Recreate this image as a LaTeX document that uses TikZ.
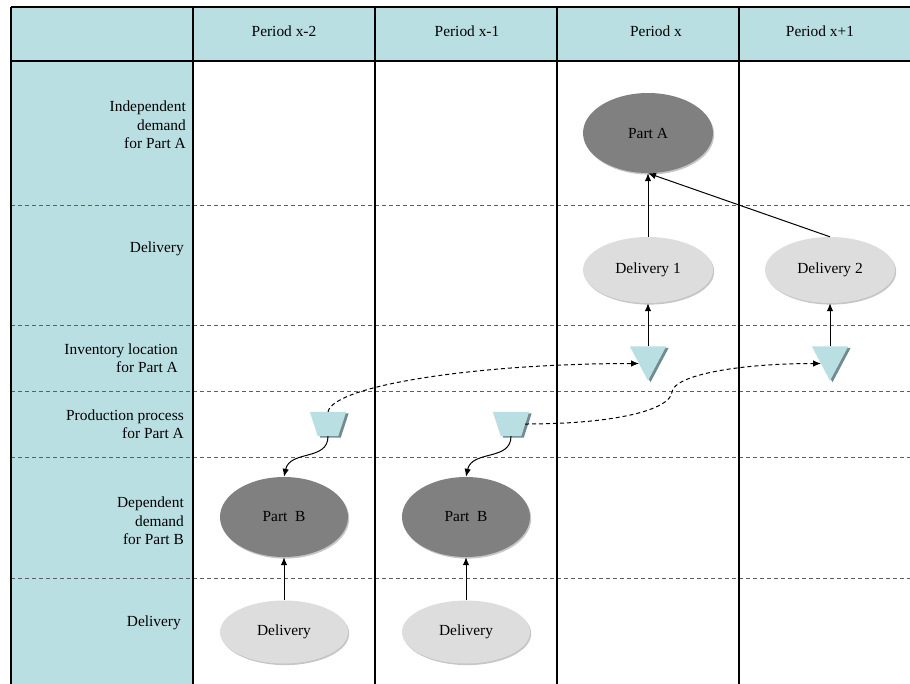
\documentclass[tikz,border=0pt]{standalone}
\usepackage{fontspec}
\setmainfont{Liberation Serif}
\usetikzlibrary{shapes.geometric,arrows.meta,calc,shadows}

\definecolor{lane}{RGB}{185,223,227}
\definecolor{laneshade}{RGB}{112,140,144}
\definecolor{partgray}{RGB}{128,128,128}
\definecolor{delgray}{RGB}{221,221,221}
\definecolor{rulegray}{RGB}{95,95,95}

\tikzset{
  txt/.style={font=\fontsize{15.4}{18.5}\selectfont, inner sep=0pt},
  rowlabel/.style={txt, align=right, anchor=east},
  headlabel/.style={txt},
  gridline/.style={line width=1.3pt, black},
  rowline/.style={line width=1pt, rulegray, dash pattern=on 4pt off 3pt},
  blob/.style={ellipse, txt, draw=none,
    drop shadow={shadow xshift=1.2pt, shadow yshift=-1.6pt, opacity=0.45}},
  demand/.style={blob, fill=partgray, minimum width=130pt, minimum height=80pt},
  delivery/.style={blob, fill=delgray, minimum width=130pt, minimum height=66pt},
  stock/.style={minimum width=36pt, minimum height=34pt, inner sep=0pt},
  process/.style={minimum width=36pt, minimum height=24pt, inner sep=0pt},
  flow/.style={line width=1pt, -{Latex[length=8pt,width=6.5pt]}},
  transfer/.style={flow, dash pattern=on 4pt off 3pt},
}

\begin{document}
\begin{tikzpicture}[x=1pt,y=-1pt]
\useasboundingbox (0,0) rectangle (910,683);
\clip (0,0) rectangle (910,683);

% header band and label column
\fill[lane] (11,7) rectangle (925,61);
\fill[lane] (11,61) rectangle (193,690);

% dashed row separators
\foreach \y in {205,325,391,457,578}
  \draw[rowline] (11,\y) -- (925,\y);

% solid rules
\draw[gridline] (11,7) -- (925,7) (11,61) -- (925,61);
\foreach \x in {11,193,375,557,739}
  \draw[gridline] (\x,7) -- (\x,690);

% column headings
\node[headlabel] (hx2) at (284,31.5) {Period x-2};
\node[headlabel] (hx1) at (467,31.5) {Period x-1};
\node[headlabel] (hx0) at (656,31.5) {Period x};
\node[headlabel] (hxp) at (820,31.5) {Period x+1};

% row headings
\node[rowlabel] (r1) at (186,125) {Independent\\demand\\for Part A};
\node[rowlabel] (r2) at (184,249) {Delivery};
\node[rowlabel] (r3) at (178,358) {Inventory location\\for Part A};
\node[rowlabel] (r4) at (184,424) {Production process\\for Part A};
\node[rowlabel] (r5) at (184,521) {Dependent\\demand\\for Part B};
\node[rowlabel] (r6) at (181,623) {Delivery};

% demand and delivery ellipses
\node[demand] (partA) at (648,133) {Part A};
\node[delivery] (del1) at (648,270) {Delivery 1};
\node[delivery] (del2) at (830,270) {Delivery 2};
\node[demand, minimum width=128pt] (partB1) at (284,517) {Part\ \ B};
\node[demand, minimum width=128pt] (partB2) at (466,517) {Part\ \ B};
\node[delivery, minimum width=128pt, minimum height=63pt] (delB1) at (284,632) {Delivery};
\node[delivery, minimum width=128pt, minimum height=63pt] (delB2) at (466,632) {Delivery};

% inventory triangles
\node[stock] (inv1) at (648,363.5) {};
\node[stock] (inv2) at (830,363.5) {};
\foreach \n in {inv1,inv2} {
  \fill[laneshade] ($(\n.north west)+(2.5,1.5)$) -- ($(\n.north east)+(2.5,1.5)$)
    -- ($(\n.south)+(2.5,1.5)$) -- cycle;
  \fill[lane] (\n.north west) -- (\n.north east) -- (\n.south) -- cycle;
}

% production trapezoids
\node[process] (proc1) at (328,424) {};
\node[process] (proc2) at (511,424) {};
\foreach \n in {proc1,proc2} {
  \fill[laneshade] ($(\n.north west)+(2.5,1.5)$) -- ($(\n.north east)+(2.5,1.5)$)
    -- ($(\n.south east)+(-5.5,1.5)$) -- ($(\n.south west)+(10.5,1.5)$) -- cycle;
  \fill[lane] (\n.north west) -- (\n.north east)
    -- ($(\n.south east)+(-8,0)$) -- ($(\n.south west)+(8,0)$) -- cycle;
}

% entry and exit points on the sloped sides
\coordinate (inv1in) at ($(inv1.center)+(-9,0)$);
\coordinate (inv2in) at ($(inv2.center)+(-9,0)$);
\coordinate (proc2out) at ($(proc2.center)+(14,0)$);
\coordinate (bend) at (672,392);

% solid flows
\draw[flow] (del1.north) -- (partA.south);
\draw[flow] (del2.north) -- (partA.south);
\draw[flow] (inv1.north) -- (del1.south);
\draw[flow] (inv2.north) -- (del2.south);
\draw[flow] (delB1.north) -- (partB1.south);
\draw[flow] (delB2.north) -- (partB2.south);
\draw[flow] (proc1.south) .. controls +(0,25) and +(6,-27) .. (partB1.north);
\draw[flow] (proc2.south) .. controls +(0,25) and +(6,-27) .. (partB2.north);

% dashed transfers into inventory
\draw[transfer] (proc1.north) .. controls +(6,-27) and +(-158,0) .. (inv1in);
\draw[transfer] (proc2out) .. controls +(90,0) and +(-2,18) .. (bend)
  .. controls +(2,-17) and +(-82,0) .. (inv2in);
\end{tikzpicture}
\end{document}
